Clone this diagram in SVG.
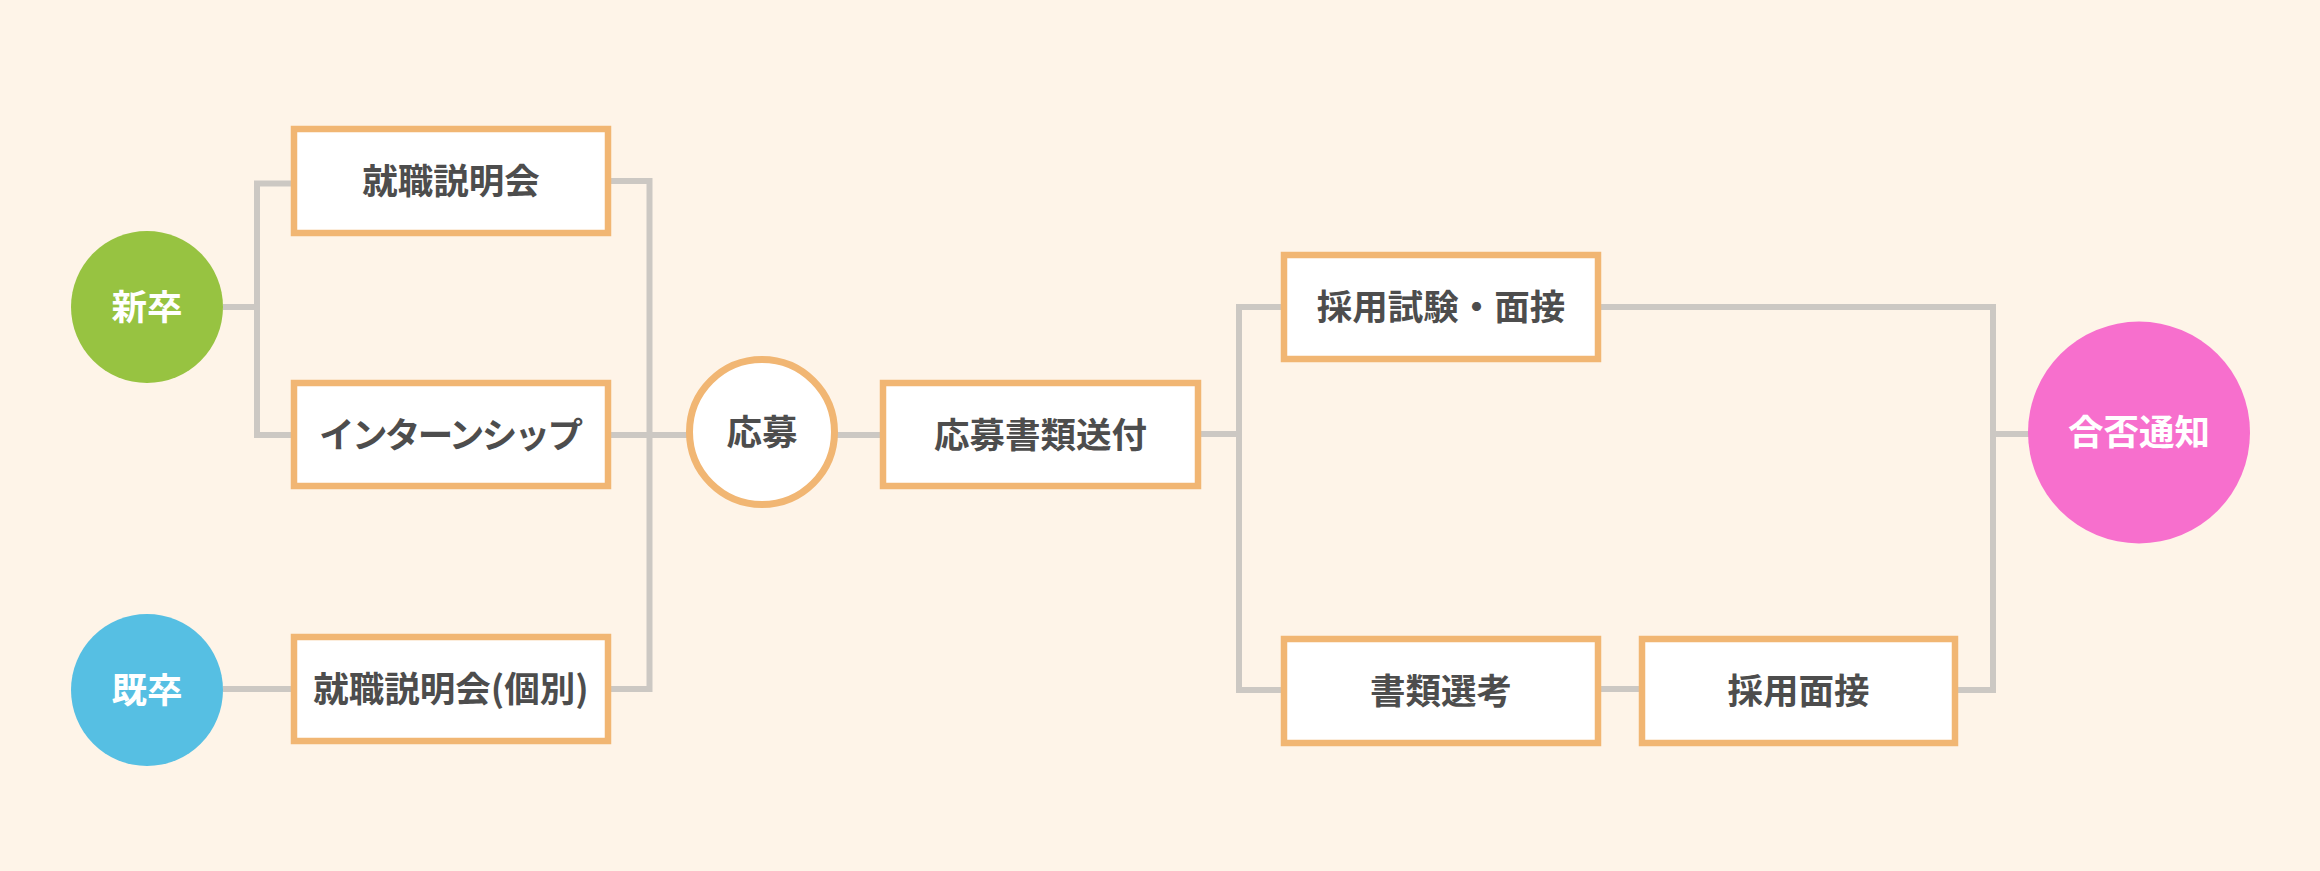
<svg xmlns="http://www.w3.org/2000/svg" width="2320" height="871" viewBox="0 0 2320 871">
<style>
.bg{fill:#FEF4E8}
.box{fill:#FFFFFF;stroke:#F1B673;stroke-width:6.5}
.ring{fill:#FFFFFF;stroke:#F1B673;stroke-width:7}
.conn{fill:none;stroke:#CCC8C3;stroke-width:6}
.t{font-family:"Noto Sans CJK JP","Noto Sans",sans-serif;font-weight:bold;font-size:35.5px;text-anchor:middle;fill:#4D4D4D}
.w{fill:#FFFFFF}
</style>
<rect class="bg" x="0" y="0" width="2320" height="871"/>
<g id="connectors">
<path class="conn" d="M223 307 H257"/>
<path class="conn" d="M294 183.5 H257 V435 H294"/>
<path class="conn" d="M223 689 H294"/>
<path class="conn" d="M608 181 H649.5 V689 H608"/>
<path class="conn" d="M608 435 H690"/>
<path class="conn" d="M834 435 H883"/>
<path class="conn" d="M1198 434 H1239"/>
<path class="conn" d="M1284 307 H1239 V690 H1284"/>
<path class="conn" d="M1598 689 H1642"/>
<path class="conn" d="M1598 307 H1993 V690 H1955"/>
<path class="conn" d="M1993 434 H2030"/>
</g>
<g id="shinsotsu">
<circle cx="147" cy="307" r="76" fill="#97C341"/>
<text class="t w" x="147" y="320">新卒</text>
</g>
<g id="kisotsu">
<circle cx="147" cy="690" r="76" fill="#56BFE3"/>
<text class="t w" x="147" y="703">既卒</text>
</g>
<g id="setsumeikai">
<rect class="box" x="294" y="129" width="314" height="104"/>
<text class="t" x="451" y="194">就職説明会</text>
</g>
<g id="internship">
<rect class="box" x="294" y="383" width="314" height="103"/>
<text class="t" x="451" y="448" textLength="264" lengthAdjust="spacing">インターンシップ</text>
</g>
<g id="setsumeikai-kobetsu">
<rect class="box" x="294" y="637" width="314" height="104"/>
<text class="t" x="451" y="702">就職説明会(個別)</text>
</g>
<g id="oubo">
<circle class="ring" cx="762" cy="432" r="72.5"/>
<text class="t" x="762" y="445">応募</text>
</g>
<g id="shorui-soufu">
<rect class="box" x="883" y="383" width="315" height="103"/>
<text class="t" x="1040.5" y="448">応募書類送付</text>
</g>
<g id="shiken-mensetsu">
<rect class="box" x="1284" y="255" width="314" height="104"/>
<text class="t" x="1441" y="320">採用試験・面接</text>
</g>
<g id="shorui-senkou">
<rect class="box" x="1284" y="639" width="314" height="104"/>
<text class="t" x="1441" y="704">書類選考</text>
</g>
<g id="saiyou-mensetsu">
<rect class="box" x="1642" y="639" width="313" height="104"/>
<text class="t" x="1798.5" y="704">採用面接</text>
</g>
<g id="gouhi">
<circle cx="2139" cy="432.5" r="111" fill="#F76FCD"/>
<text class="t w" x="2139" y="445">合否通知</text>
</g>
</svg>
